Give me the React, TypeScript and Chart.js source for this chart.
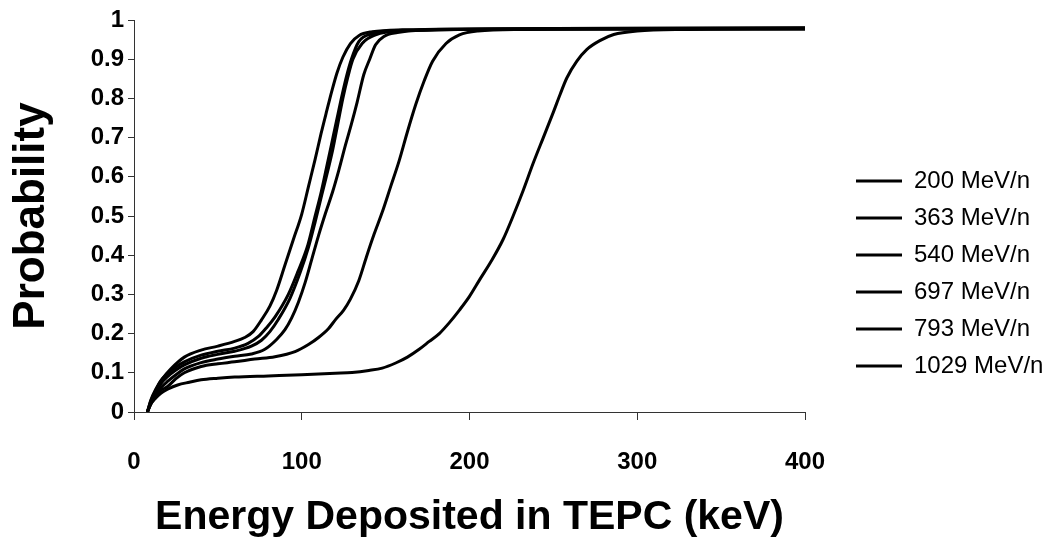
import React, { useEffect, useRef } from "react";
import { Chart, registerables } from "chart.js";

Chart.register(...registerables);

const seriesLabels = ["200 MeV/n", "363 MeV/n", "540 MeV/n", "697 MeV/n", "793 MeV/n", "1029 MeV/n"];

// Energy deposited (keV) and cumulative probability for each beam energy
const x200 = [8, 10, 13, 16, 20, 26, 33, 40, 50, 60, 80, 100, 120, 130, 140, 148, 156, 163, 170, 176, 182, 188, 194, 200, 206, 213, 220, 226, 232, 238, 244, 250, 254, 258, 264, 270, 278, 286, 300, 330, 370, 400];
const p200 = [0, 0.02, 0.036, 0.048, 0.058, 0.069, 0.076, 0.082, 0.086, 0.089, 0.092, 0.095, 0.099, 0.101, 0.106, 0.112, 0.125, 0.14, 0.16, 0.18, 0.2, 0.228, 0.26, 0.295, 0.337, 0.385, 0.44, 0.5, 0.565, 0.635, 0.7, 0.765, 0.81, 0.852, 0.895, 0.925, 0.948, 0.963, 0.972, 0.976, 0.977, 0.977];

const x363 = [8, 10, 13, 16, 20, 25, 30, 40, 50, 60, 72, 84, 96, 104, 110, 116, 120, 125, 129, 134, 138.5, 143, 148, 153, 158, 163, 168, 173, 178, 186, 194, 205, 230, 300, 400];
const p363 = [0, 0.02, 0.04, 0.055, 0.065, 0.085, 0.1, 0.116, 0.123, 0.128, 0.135, 0.141, 0.154, 0.172, 0.19, 0.213, 0.235, 0.26, 0.288, 0.335, 0.395, 0.452, 0.51, 0.575, 0.64, 0.715, 0.785, 0.845, 0.895, 0.94, 0.962, 0.972, 0.976, 0.977, 0.978];

const x540 = [8, 10, 13, 16, 20, 25, 30, 40, 50, 60, 70, 78, 85, 90, 94, 98, 102, 106, 110, 114, 118.5, 122, 126, 129.5, 133, 137, 140.5, 144, 149, 157, 170, 250, 400];
const p540 = [0, 0.022, 0.045, 0.062, 0.078, 0.095, 0.11, 0.126, 0.135, 0.142, 0.148, 0.16, 0.185, 0.21, 0.24, 0.28, 0.33, 0.39, 0.45, 0.505, 0.563, 0.615, 0.68, 0.733, 0.79, 0.861, 0.9, 0.937, 0.958, 0.968, 0.974, 0.977, 0.977];

const x697 = [8, 10, 13, 16, 20, 25, 30, 40, 50, 60, 70, 76, 81, 86, 93, 99, 104, 108, 112, 115.5, 118.5, 121.5, 124.5, 127.5, 130.5, 136, 144, 158, 250, 400];
const p697 = [0, 0.025, 0.05, 0.072, 0.09, 0.107, 0.12, 0.137, 0.147, 0.155, 0.168, 0.183, 0.205, 0.236, 0.29, 0.355, 0.42, 0.485, 0.555, 0.615, 0.67, 0.735, 0.8, 0.855, 0.9, 0.94, 0.962, 0.972, 0.977, 0.979];

const x793 = [8, 10, 13, 16, 20, 25, 30, 40, 50, 60, 68, 74, 79, 84, 92, 97.7, 103.7, 107.7, 111.7, 114.7, 117.6, 120.6, 123.6, 126.6, 129.6, 134, 142, 155, 250, 400];
const p793 = [0, 0.028, 0.056, 0.08, 0.097, 0.115, 0.128, 0.145, 0.155, 0.163, 0.175, 0.192, 0.215, 0.242, 0.3, 0.358, 0.427, 0.495, 0.563, 0.622, 0.68, 0.74, 0.8, 0.855, 0.9, 0.945, 0.965, 0.973, 0.978, 0.979];

const x1029 = [8, 10, 13, 17, 22, 30, 40, 50, 60, 66, 71, 76, 81, 85, 90, 95, 100, 104, 108, 111.5, 115, 118, 121, 124.5, 129, 134, 142, 160, 250, 400];
const p1029 = [0, 0.03, 0.058, 0.085, 0.11, 0.14, 0.158, 0.168, 0.18, 0.19, 0.205, 0.235, 0.27, 0.31, 0.375, 0.44, 0.505, 0.575, 0.645, 0.71, 0.77, 0.82, 0.865, 0.905, 0.94, 0.96, 0.97, 0.975, 0.978, 0.98];

const xSeries = [x200, x363, x540, x697, x793, x1029];
const ySeries = [p200, p363, p540, p697, p793, p1029];

const xTitle = "Energy Deposited in TEPC (keV)";
const yTitle = "Probability";

const FONT = "'Liberation Sans', Arial, sans-serif";

const legendMover = {
  id: "legendMover",
  afterUpdate(chart: any) {
    const lg = chart.legend;
    if (!lg) return;
    lg.left = 843;
    lg.top = 156;
    lg.right = 1055;
    lg.bottom = 542;
    lg.width = lg.right - lg.left;
    lg.height = lg.bottom - lg.top;
    if (typeof lg.adjustHitBoxes === "function") lg.adjustHitBoxes();
  },
};

export default function App() {
  const canvasRef = useRef<HTMLCanvasElement | null>(null);

  useEffect(() => {
    const canvas = canvasRef.current;
    if (!canvas) return;
    const datasets = seriesLabels.map((label, i) => ({
      label,
      data: xSeries[i].map((x, j) => ({ x, y: ySeries[i][j] })),
      borderColor: "#000",
      backgroundColor: "#000",
      borderWidth: 3,
      pointRadius: 0,
      pointHoverRadius: 0,
      showLine: true,
      fill: false,
      cubicInterpolationMode: "monotone" as const,
    }));

    const chart = new Chart(canvas, {
      type: "scatter",
      data: { datasets },
      options: {
        animation: false,
        responsive: true,
        maintainAspectRatio: false,
        layout: { padding: { top: 20, right: 250, left: 0, bottom: 0 } },
        plugins: {
          tooltip: { enabled: false },
          legend: {
            display: true,
            position: "chartArea",
            align: "start",
            labels: {
              usePointStyle: true,
              pointStyle: "line",
              pointStyleWidth: 46,
              color: "#000",
              padding: 13,
              font: { family: FONT, size: 24, weight: "normal" },
            },
          },
        },
        scales: {
          x: {
            type: "linear",
            min: 0,
            max: 400,
            afterFit: (s: any) => {
              s.height = 130;
            },
            ticks: {
              stepSize: 100,
              color: "#000",
              padding: 28,
              font: { family: FONT, size: 24, weight: "bold" },
            },
            grid: {
              drawOnChartArea: false,
              drawTicks: true,
              tickLength: 8,
              tickColor: "#333",
              color: "#333",
            },
            border: { display: true, color: "#333", width: 1 },
            title: {
              display: true,
              text: xTitle,
              color: "#000",
              font: { family: FONT, size: 41, weight: "bold" },
              padding: { top: 0, bottom: 0 },
            },
          },
          y: {
            type: "linear",
            min: 0,
            max: 1,
            afterFit: (s: any) => {
              s.width = 134;
            },
            ticks: {
              stepSize: 0.1,
              color: "#000",
              padding: 4,
              font: { family: FONT, size: 24, weight: "bold" },
              callback: (v: any) => String(Math.round(Number(v) * 10) / 10),
            },
            grid: {
              drawOnChartArea: false,
              drawTicks: true,
              tickLength: 6,
              tickColor: "#333",
              color: "#333",
            },
            border: { display: true, color: "#333", width: 1 },
            title: {
              display: true,
              text: yTitle,
              color: "#000",
              font: { family: FONT, size: 44, weight: "bold" },
              padding: { top: 5, bottom: 0 },
            },
          },
        },
      },
      plugins: [legendMover],
    } as any);

    return () => chart.destroy();
  }, []);

  return (
    <div style={{ position: "fixed", left: 0, top: 0, width: 1055, height: 542, background: "#fff" }}>
      <canvas ref={canvasRef} />
    </div>
  );
}
